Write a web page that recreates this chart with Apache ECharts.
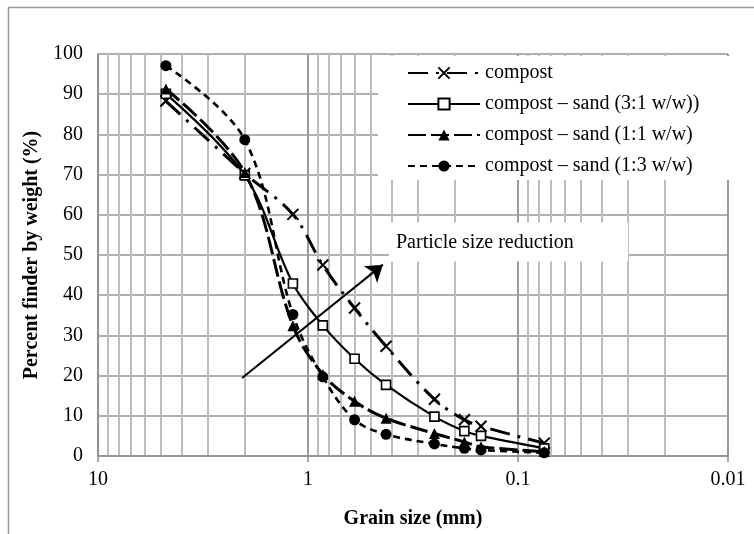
<!DOCTYPE html>
<html>
<head>
<meta charset="utf-8">
<script src="https://cdn.jsdelivr.net/npm/echarts@6/dist/echarts.min.js"></script>
<style>
  html, body { margin: 0; padding: 0; background: #fff; }
  #chart { width: 754px; height: 534px; }
</style>
</head>
<body>
<div id="chart"></div>
<script>
// Sieve openings (mm)
const grainSizes = [4.75, 2, 1.18, 0.85, 0.6, 0.425, 0.25, 0.18, 0.15, 0.075];

// Percent passing for each mixture
const compost = [88.3, 70.3, 60.1, 47.5, 36.8, 27.3, 14.1, 9.0, 7.4, 3.2];
const sand31 = [90.1, 69.8, 42.9, 32.5, 24.2, 17.7, 9.8, 6.2, 5.0, 1.9];
const sand11 = [91.3, 70.5, 32.4, 20.3, 13.6, 9.4, 5.6, 3.5, 2.3, 1.1];
const sand13 = [97.1, 78.7, 35.2, 19.7, 9.0, 5.4, 3.0, 1.9, 1.5, 0.8];

const seriesNames = [
  'compost',
  'compost \u2013 sand (3:1 w/w))',
  'compost \u2013 sand (1:1 w/w)',
  'compost \u2013 sand (1:3 w/w)'
];

// Trend arrow endpoints [grain size, percent]
const arrowFrom = [2.06, 19.4];
const arrowTo = [0.44, 47.6];
const arrowLabel = 'Particle size reduction';

const xTicks = [10, 1, 0.1, 0.01];

const SERIF = '"Liberation Serif", "Times New Roman", serif';

function pairs(ys) {
  return grainSizes.map((x, i) => [x, ys[i]]);
}

const crossPath = 'path://M0,0L10,10M10,0L0,10';

const chart = echarts.init(document.getElementById('chart'), null, { renderer: 'canvas' });

chart.setOption({
  animation: false,
  backgroundColor: '#fff',
  textStyle: { fontFamily: SERIF, color: '#000' },
  grid: { left: 98, right: 26, top: 54, bottom: 63, containLabel: false },
  xAxis: {
    type: 'log',
    logBase: 10,
    min: 0.01,
    max: 10,
    inverse: true,
    name: 'Grain size (mm)',
    nameLocation: 'middle',
    nameGap: 53,
    nameTextStyle: { fontFamily: SERIF, fontWeight: 'bold', fontSize: 20, color: '#000' },
    axisLine: { show: true, lineStyle: { color: '#8c8c8c', width: 1.5 } },
    axisTick: { show: true, length: 6, lineStyle: { color: '#8c8c8c', width: 1.5 } },
    axisLabel: {
      fontFamily: SERIF, fontSize: 20, color: '#000', margin: 14,
      formatter: v => xTicks.find(t => Math.abs(t - v) / t < 1e-6) !== undefined ? String(v) : ''
    },
    splitLine: { show: true, lineStyle: { color: '#9a9a9a', width: 2 } },
    minorTick: { show: false, splitNumber: 9 },
    minorSplitLine: { show: true, lineStyle: { color: '#bdbdbd', width: 2 } }
  },
  yAxis: {
    type: 'value',
    min: 0,
    max: 100,
    interval: 10,
    name: 'Percent finder by weight (%)',
    nameLocation: 'middle',
    nameGap: 52,
    nameTextStyle: { fontFamily: SERIF, fontWeight: 'bold', fontSize: 20, color: '#000' },
    axisLine: { show: true, lineStyle: { color: '#8c8c8c', width: 1.5 } },
    axisTick: { show: false },
    axisLabel: { fontFamily: SERIF, fontSize: 20, color: '#000', margin: 15 },
    splitLine: { show: true, lineStyle: { color: '#b0b0b0', width: 2 } }
  },
  legend: {
    orient: 'vertical',
    left: 407,
    top: 63,
    padding: 0,
    itemWidth: 72,
    itemHeight: 14,
    itemGap: 11,
    textStyle: { fontFamily: SERIF, fontSize: 20, color: '#000', padding: [0, 0, 0, 0] },
    data: seriesNames
  },
  graphic: [
    {
      type: 'rect',
      z: -10,
      silent: true,
      shape: { x: 8.5, y: 7.5, width: 900, height: 700 },
      style: { fill: 'none', stroke: '#9a9a9a', lineWidth: 1.5 }
    },
    {
      type: 'rect',
      z: 1,
      silent: true,
      shape: { x: 378, y: 56, width: 353, height: 124 },
      style: { fill: '#fff' }
    },
    {
      type: 'rect',
      z: 1,
      silent: true,
      shape: { x: 389, y: 222.5, width: 239, height: 39 },
      style: { fill: '#fff' }
    },
    {
      type: 'text',
      z: 2,
      silent: true,
      x: 396,
      y: 243,
      style: {
        text: arrowLabel,
        font: '20px ' + SERIF,
        fill: '#000',
        verticalAlign: 'middle'
      }
    }
  ],
  series: [
    {
      name: seriesNames[0],
      type: 'line',
      z: 3,
      data: pairs(compost),
      smooth: 0.35,
      symbol: crossPath,
      symbolSize: 11,
      itemStyle: { color: '#000', borderColor: '#000', borderWidth: 2 },
      lineStyle: { color: '#000', width: 3, type: [20, 8, 3, 8] },
      markLine: {
        silent: true,
        symbol: ['none', 'arrow'],
        symbolSize: 16,
        label: { show: false },
        emphasis: { disabled: true },
        lineStyle: { color: '#000', width: 2, type: 'solid' },
        data: [[{ coord: arrowFrom }, { coord: arrowTo }]]
      }
    },
    {
      name: seriesNames[1],
      type: 'line',
      z: 3,
      data: pairs(sand31),
      smooth: 0.35,
      symbol: 'rect',
      symbolSize: 9,
      itemStyle: { color: '#fff', borderColor: '#000', borderWidth: 1.6 },
      lineStyle: { color: '#000', width: 2.2, type: 'solid' }
    },
    {
      name: seriesNames[2],
      type: 'line',
      z: 3,
      data: pairs(sand11),
      smooth: 0.35,
      symbol: 'triangle',
      symbolSize: 11,
      itemStyle: { color: '#000' },
      lineStyle: { color: '#000', width: 3, type: [18, 5] }
    },
    {
      name: seriesNames[3],
      type: 'line',
      z: 3,
      data: pairs(sand13),
      smooth: 0.35,
      symbol: 'circle',
      symbolSize: 11,
      itemStyle: { color: '#000' },
      lineStyle: { color: '#000', width: 2.6, type: [7, 5] }
    }
  ]
});
</script>
</body>
</html>
